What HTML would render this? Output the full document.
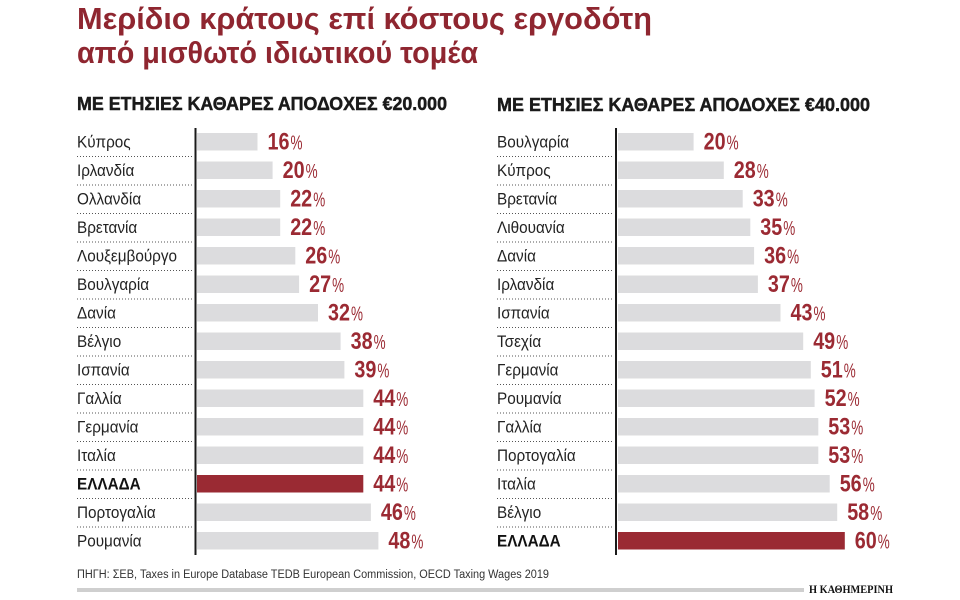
<!DOCTYPE html>
<html><head><meta charset="utf-8"><style>
html,body{margin:0;padding:0;background:#fff;}
svg{display:block;}
.t{font-family:"Liberation Sans Narrow","Liberation Sans",sans-serif;font-weight:bold;fill:#8f2630;font-size:31px;}
.s{font-family:"Liberation Sans",sans-serif;font-weight:bold;fill:#1a1a1a;font-size:18px;stroke:#1a1a1a;stroke-width:0.45;}
.l{font-family:"Liberation Sans",sans-serif;fill:#222;font-size:17px;}
.lb{font-family:"Liberation Sans",sans-serif;fill:#111;font-size:17px;font-weight:bold;}
.v{font-family:"Liberation Sans Narrow","Liberation Sans",sans-serif;font-weight:bold;fill:#9b2a33;font-size:24px;}
.p{font-family:"Liberation Sans",sans-serif;fill:#9b2a33;font-size:20px;}
.f{font-family:"Liberation Sans",sans-serif;fill:#333;font-size:11.5px;}
.k{font-family:"Liberation Serif",serif;font-weight:bold;fill:#111;font-size:12px;}
</style></head><body>
<svg width="960" height="600" viewBox="0 0 960 600" xmlns="http://www.w3.org/2000/svg">
<rect width="960" height="600" fill="#fff"/>
<text class="t" x="77" y="29" textLength="575" lengthAdjust="spacingAndGlyphs">Μερίδιο κράτους επί κόστους εργοδότη</text>
<text class="t" x="77" y="63" textLength="401" lengthAdjust="spacingAndGlyphs">από μισθωτό ιδιωτικού τομέα</text>

<text class="s" x="77" y="110" textLength="370" lengthAdjust="spacingAndGlyphs">ΜΕ ΕΤΗΣΙΕΣ ΚΑΘΑΡΕΣ ΑΠΟΔΟΧΕΣ €20.000</text>
<text class="s" x="497" y="111" textLength="373" lengthAdjust="spacingAndGlyphs">ΜΕ ΕΤΗΣΙΕΣ ΚΑΘΑΡΕΣ ΑΠΟΔΟΧΕΣ €40.000</text>

<g stroke="#555" stroke-width="1" stroke-dasharray="1,2">
<path d="M77 156.5H193M77 185H193M77 213.5H193M77 242H193M77 270.5H193M77 299H193M77 327.5H193M77 356H193M77 384.5H193M77 413H193M77 441.5H193M77 470H193M77 498.5H193M77 527H193"/>
<path d="M497 156.5H614M497 185H614M497 213.5H614M497 242H614M497 270.5H614M497 299H614M497 327.5H614M497 356H614M497 384.5H614M497 413H614M497 441.5H614M497 470H614M497 498.5H614M497 527H614"/>
</g>

<g fill="#dcdcde">
<rect x="197" y="133" width="60.5" height="17.5"/>
<rect x="197" y="161.5" width="75.6" height="17.5"/>
<rect x="197" y="190" width="83.2" height="17.5"/>
<rect x="197" y="218.5" width="83.2" height="17.5"/>
<rect x="197" y="247" width="98.3" height="17.5"/>
<rect x="197" y="275.5" width="102.1" height="17.5"/>
<rect x="197" y="304" width="121" height="17.5"/>
<rect x="197" y="332.5" width="143.6" height="17.5"/>
<rect x="197" y="361" width="147.4" height="17.5"/>
<rect x="197" y="389.5" width="166.3" height="17.5"/>
<rect x="197" y="418" width="166.3" height="17.5"/>
<rect x="197" y="446.5" width="166.3" height="17.5"/>
<rect x="197" y="503.5" width="173.9" height="17.5"/>
<rect x="197" y="532" width="181.4" height="17.5"/>
</g>
<rect x="197" y="475" width="166.3" height="17.5" fill="#9a2a33"/>

<g fill="#dcdcde">
<rect x="618" y="133" width="75.6" height="17.5"/>
<rect x="618" y="161.5" width="105.8" height="17.5"/>
<rect x="618" y="190" width="124.7" height="17.5"/>
<rect x="618" y="218.5" width="132.3" height="17.5"/>
<rect x="618" y="247" width="136.1" height="17.5"/>
<rect x="618" y="275.5" width="139.9" height="17.5"/>
<rect x="618" y="304" width="162.5" height="17.5"/>
<rect x="618" y="332.5" width="185.2" height="17.5"/>
<rect x="618" y="361" width="192.8" height="17.5"/>
<rect x="618" y="389.5" width="196.6" height="17.5"/>
<rect x="618" y="418" width="200.3" height="17.5"/>
<rect x="618" y="446.5" width="200.3" height="17.5"/>
<rect x="618" y="475" width="211.7" height="17.5"/>
<rect x="618" y="503.5" width="219.2" height="17.5"/>
</g>
<rect x="618" y="532" width="226.8" height="17.5" fill="#9a2a33"/>

<rect x="194.5" y="128" width="2" height="427" fill="#1a1a1a"/>
<rect x="615" y="128" width="2" height="427" fill="#1a1a1a"/>

<g transform="translate(77,0) scale(0.9,1)">
<text class="l" x="0" y="147.5">Κύπρος</text>
<text class="l" x="0" y="176">Ιρλανδία</text>
<text class="l" x="0" y="204.5">Ολλανδία</text>
<text class="l" x="0" y="233">Βρετανία</text>
<text class="l" x="0" y="261.5">Λουξεμβούργο</text>
<text class="l" x="0" y="290">Βουλγαρία</text>
<text class="l" x="0" y="318.5">Δανία</text>
<text class="l" x="0" y="347">Βέλγιο</text>
<text class="l" x="0" y="375.5">Ισπανία</text>
<text class="l" x="0" y="404">Γαλλία</text>
<text class="l" x="0" y="432.5">Γερμανία</text>
<text class="l" x="0" y="461">Ιταλία</text>
<text class="lb" x="0" y="489.5">ΕΛΛΑΔΑ</text>
<text class="l" x="0" y="518">Πορτογαλία</text>
<text class="l" x="0" y="546.5">Ρουμανία</text>
</g>

<g transform="translate(497,0) scale(0.9,1)">
<text class="l" x="0" y="147.5">Βουλγαρία</text>
<text class="l" x="0" y="176">Κύπρος</text>
<text class="l" x="0" y="204.5">Βρετανία</text>
<text class="l" x="0" y="233">Λιθουανία</text>
<text class="l" x="0" y="261.5">Δανία</text>
<text class="l" x="0" y="290">Ιρλανδία</text>
<text class="l" x="0" y="318.5">Ισπανία</text>
<text class="l" x="0" y="347">Τσεχία</text>
<text class="l" x="0" y="375.5">Γερμανία</text>
<text class="l" x="0" y="404">Ρουμανία</text>
<text class="l" x="0" y="432.5">Γαλλία</text>
<text class="l" x="0" y="461">Πορτογαλία</text>
<text class="l" x="0" y="489.5">Ιταλία</text>
<text class="l" x="0" y="518">Βέλγιο</text>
<text class="lb" x="0" y="546.5">ΕΛΛΑΔΑ</text>
</g>

<g>
<text class="v" x="267.5" y="149.5" textLength="22" lengthAdjust="spacingAndGlyphs">16</text><text class="p" x="290.5" y="149.5" textLength="12" lengthAdjust="spacingAndGlyphs">%</text>
<text class="v" x="282.6" y="178" textLength="22" lengthAdjust="spacingAndGlyphs">20</text><text class="p" x="305.6" y="178" textLength="12" lengthAdjust="spacingAndGlyphs">%</text>
<text class="v" x="290.2" y="206.5" textLength="22" lengthAdjust="spacingAndGlyphs">22</text><text class="p" x="313.2" y="206.5" textLength="12" lengthAdjust="spacingAndGlyphs">%</text>
<text class="v" x="290.2" y="235" textLength="22" lengthAdjust="spacingAndGlyphs">22</text><text class="p" x="313.2" y="235" textLength="12" lengthAdjust="spacingAndGlyphs">%</text>
<text class="v" x="305.3" y="263.5" textLength="22" lengthAdjust="spacingAndGlyphs">26</text><text class="p" x="328.3" y="263.5" textLength="12" lengthAdjust="spacingAndGlyphs">%</text>
<text class="v" x="309.1" y="292" textLength="22" lengthAdjust="spacingAndGlyphs">27</text><text class="p" x="332.1" y="292" textLength="12" lengthAdjust="spacingAndGlyphs">%</text>
<text class="v" x="328" y="320.5" textLength="22" lengthAdjust="spacingAndGlyphs">32</text><text class="p" x="351" y="320.5" textLength="12" lengthAdjust="spacingAndGlyphs">%</text>
<text class="v" x="350.6" y="349" textLength="22" lengthAdjust="spacingAndGlyphs">38</text><text class="p" x="373.6" y="349" textLength="12" lengthAdjust="spacingAndGlyphs">%</text>
<text class="v" x="354.4" y="377.5" textLength="22" lengthAdjust="spacingAndGlyphs">39</text><text class="p" x="377.4" y="377.5" textLength="12" lengthAdjust="spacingAndGlyphs">%</text>
<text class="v" x="373.3" y="406" textLength="22" lengthAdjust="spacingAndGlyphs">44</text><text class="p" x="396.3" y="406" textLength="12" lengthAdjust="spacingAndGlyphs">%</text>
<text class="v" x="373.3" y="434.5" textLength="22" lengthAdjust="spacingAndGlyphs">44</text><text class="p" x="396.3" y="434.5" textLength="12" lengthAdjust="spacingAndGlyphs">%</text>
<text class="v" x="373.3" y="463" textLength="22" lengthAdjust="spacingAndGlyphs">44</text><text class="p" x="396.3" y="463" textLength="12" lengthAdjust="spacingAndGlyphs">%</text>
<text class="v" x="373.3" y="491.5" textLength="22" lengthAdjust="spacingAndGlyphs">44</text><text class="p" x="396.3" y="491.5" textLength="12" lengthAdjust="spacingAndGlyphs">%</text>
<text class="v" x="380.9" y="520" textLength="22" lengthAdjust="spacingAndGlyphs">46</text><text class="p" x="403.9" y="520" textLength="12" lengthAdjust="spacingAndGlyphs">%</text>
<text class="v" x="388.4" y="548.5" textLength="22" lengthAdjust="spacingAndGlyphs">48</text><text class="p" x="411.4" y="548.5" textLength="12" lengthAdjust="spacingAndGlyphs">%</text>
</g>

<g>
<text class="v" x="703.6" y="149.5" textLength="22" lengthAdjust="spacingAndGlyphs">20</text><text class="p" x="726.6" y="149.5" textLength="12" lengthAdjust="spacingAndGlyphs">%</text>
<text class="v" x="733.8" y="178" textLength="22" lengthAdjust="spacingAndGlyphs">28</text><text class="p" x="756.8" y="178" textLength="12" lengthAdjust="spacingAndGlyphs">%</text>
<text class="v" x="752.7" y="206.5" textLength="22" lengthAdjust="spacingAndGlyphs">33</text><text class="p" x="775.7" y="206.5" textLength="12" lengthAdjust="spacingAndGlyphs">%</text>
<text class="v" x="760.3" y="235" textLength="22" lengthAdjust="spacingAndGlyphs">35</text><text class="p" x="783.3" y="235" textLength="12" lengthAdjust="spacingAndGlyphs">%</text>
<text class="v" x="764.1" y="263.5" textLength="22" lengthAdjust="spacingAndGlyphs">36</text><text class="p" x="787.1" y="263.5" textLength="12" lengthAdjust="spacingAndGlyphs">%</text>
<text class="v" x="767.9" y="292" textLength="22" lengthAdjust="spacingAndGlyphs">37</text><text class="p" x="790.9" y="292" textLength="12" lengthAdjust="spacingAndGlyphs">%</text>
<text class="v" x="790.5" y="320.5" textLength="22" lengthAdjust="spacingAndGlyphs">43</text><text class="p" x="813.5" y="320.5" textLength="12" lengthAdjust="spacingAndGlyphs">%</text>
<text class="v" x="813.2" y="349" textLength="22" lengthAdjust="spacingAndGlyphs">49</text><text class="p" x="836.2" y="349" textLength="12" lengthAdjust="spacingAndGlyphs">%</text>
<text class="v" x="820.8" y="377.5" textLength="22" lengthAdjust="spacingAndGlyphs">51</text><text class="p" x="843.8" y="377.5" textLength="12" lengthAdjust="spacingAndGlyphs">%</text>
<text class="v" x="824.6" y="406" textLength="22" lengthAdjust="spacingAndGlyphs">52</text><text class="p" x="847.6" y="406" textLength="12" lengthAdjust="spacingAndGlyphs">%</text>
<text class="v" x="828.3" y="434.5" textLength="22" lengthAdjust="spacingAndGlyphs">53</text><text class="p" x="851.3" y="434.5" textLength="12" lengthAdjust="spacingAndGlyphs">%</text>
<text class="v" x="828.3" y="463" textLength="22" lengthAdjust="spacingAndGlyphs">53</text><text class="p" x="851.3" y="463" textLength="12" lengthAdjust="spacingAndGlyphs">%</text>
<text class="v" x="839.7" y="491.5" textLength="22" lengthAdjust="spacingAndGlyphs">56</text><text class="p" x="862.7" y="491.5" textLength="12" lengthAdjust="spacingAndGlyphs">%</text>
<text class="v" x="847.2" y="520" textLength="22" lengthAdjust="spacingAndGlyphs">58</text><text class="p" x="870.2" y="520" textLength="12" lengthAdjust="spacingAndGlyphs">%</text>
<text class="v" x="854.8" y="548.5" textLength="22" lengthAdjust="spacingAndGlyphs">60</text><text class="p" x="877.8" y="548.5" textLength="12" lengthAdjust="spacingAndGlyphs">%</text>
</g>

<text class="f" x="77" y="578" textLength="472" lengthAdjust="spacingAndGlyphs">ΠΗΓΗ: ΣΕΒ, Taxes in Europe Database TEDB European Commission, OECD Taxing Wages 2019</text>
<rect x="77" y="588" width="727" height="4" fill="#cfcfcf"/>
<text class="k" x="809" y="593" textLength="84" lengthAdjust="spacingAndGlyphs">Η ΚΑΘΗΜΕΡΙΝΗ</text>
</svg>
</body></html>
